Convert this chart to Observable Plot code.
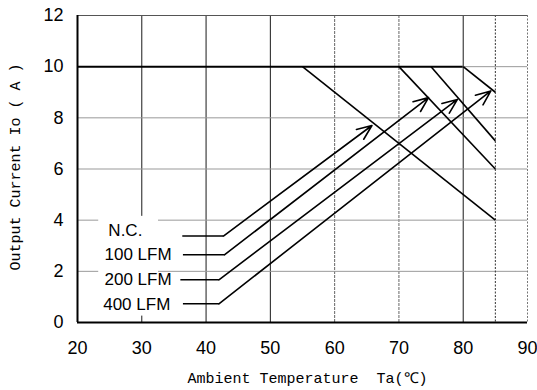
<!DOCTYPE html>
<html>
<head>
<meta charset="utf-8">
<script src="https://cdn.jsdelivr.net/npm/d3@7"></script>
<script src="https://cdn.jsdelivr.net/npm/@observablehq/plot@0.6"></script>
<style>
  html, body { margin: 0; padding: 0; background: #fff; }
</style>
</head>
<body>
<div id="chart"></div>
<script>
// Series names
const series = ["N.C.", "100 LFM", "200 LFM", "400 LFM"];
// Derating lines: start at Io = 10 A at these temperatures, end at 85 °C with these currents
const derateStartTa = [55, 70, 75, 80];
const derateEndIo = [4, 6, 7.1, 9];
const maxIo = 10;
const endTa = 85;
// Legend leader lines (horizontal part then arrow)
const legendY = [3.38, 2.65, 1.67, 0.73];
const legendX0 = [36.3, 36.4, 36.0, 36.4];
const legendX1 = [42.7, 42.9, 42.0, 42.0];
const arrowTipX = [65.8, 74.6, 79.1, 84.3];
const arrowTipY = [7.7, 8.79, 8.72, 9.05];
// Legend label anchors
const labelX = [24.8, 24.2, 24.2, 24.0];
const labelY = [3.6, 2.65, 1.68, 0.7];
// Axis ticks
const xTicks = [20, 30, 40, 50, 60, 70, 80, 90];
const yTicks = [0, 2, 4, 6, 8, 10, 12];
const xGridDark = [30, 40, 50, 80];
const xGridLight = [60, 70];
const yGrid = [2, 4, 6, 8];
const xLabel = "Ambient Temperature  Ta(\u2103)";
const yLabel = "Output Current Io ( A )";

const derate = series.map((s, i) => ({s, x1: derateStartTa[i], y1: maxIo, x2: endTa, y2: derateEndIo[i]}));
const leaders = series.map((s, i) => ({s, x1: legendX0[i], x2: legendX1[i], y: legendY[i]}));
const arrows = series.map((s, i) => ({s, x1: legendX1[i], y1: legendY[i], x2: arrowTipX[i], y2: arrowTipY[i]}));
const labels = series.map((s, i) => ({s, x: labelX[i], y: labelY[i]}));

const sans = "'Liberation Sans Narrow', 'Liberation Sans', sans-serif";
const mono = "'Liberation Mono', 'DejaVu Sans Mono', monospace";

const chart = Plot.plot({
  width: 537,
  height: 390,
  marginLeft: 77,
  marginRight: 10,
  marginTop: 15,
  marginBottom: 68,
  style: {fontFamily: sans, fontSize: "18px", background: "#fff", color: "#000"},
  x: {domain: [20, 90], ticks: xTicks},
  y: {domain: [0, 12], ticks: yTicks},
  marks: [
    Plot.gridX(xGridDark, {stroke: "#000", strokeOpacity: 0.9, strokeWidth: 1}),
    Plot.gridX(xGridLight, {stroke: "#666", strokeOpacity: 1, strokeWidth: 1, strokeDasharray: "3,1"}),
    Plot.gridY(yGrid, {stroke: "#999", strokeOpacity: 1, strokeWidth: 1}),
    Plot.ruleX([endTa], {stroke: "#333", strokeDasharray: "2,1.5", strokeWidth: 1}),
    Plot.ruleY([12], {stroke: "#555", strokeWidth: 1}),
    Plot.ruleX([90], {stroke: "#777", strokeDasharray: "2,1.5", strokeWidth: 1}),
    Plot.ruleY([maxIo], {x1: 80, x2: 90, stroke: "#999", strokeWidth: 1}),
    // white box behind legend labels
    Plot.rect([{}], {x1: 23.3, x2: 32.6, y1: 0.25, y2: 4.15, fill: "#fff"}),
    Plot.ruleY([maxIo], {x1: 20, x2: 80, stroke: "#000", strokeWidth: 2}),
    Plot.link(derate, {x1: "x1", y1: "y1", x2: "x2", y2: "y2", stroke: "#000", strokeWidth: 1.6}),
    Plot.link(leaders, {x1: "x1", x2: "x2", y1: "y", y2: "y", stroke: "#000", strokeWidth: 1.6}),
    Plot.arrow(arrows, {x1: "x1", y1: "y1", x2: "x2", y2: "y2", stroke: "#000", strokeWidth: 1.6, headLength: 15, headAngle: 45}),
    Plot.text(labels, {x: "x", y: "y", text: "s", textAnchor: "start", fill: "#000", fontSize: 17, fontFamily: sans}),
    Plot.ruleX([20], {stroke: "#000", strokeWidth: 2}),
    Plot.ruleY([0], {stroke: "#000", strokeWidth: 2}),
    Plot.axisX(xTicks, {tickSize: 0, tickPadding: 19, label: null, fontSize: 18}),
    Plot.axisY(yTicks, {tickSize: 0, tickPadding: 14, label: null, fontSize: 18}),
    Plot.text([xLabel], {frameAnchor: "bottom", dy: 60, dx: 5, fontFamily: mono, fontSize: 15, fill: "#000"}),
    Plot.text([yLabel], {frameAnchor: "left", textAnchor: "middle", lineAnchor: "middle", rotate: -90, dx: -62, dy: -2, fontFamily: mono, fontSize: 15, fill: "#000"})
  ]
});
document.getElementById("chart").appendChild(chart);
</script>
</body>
</html>
